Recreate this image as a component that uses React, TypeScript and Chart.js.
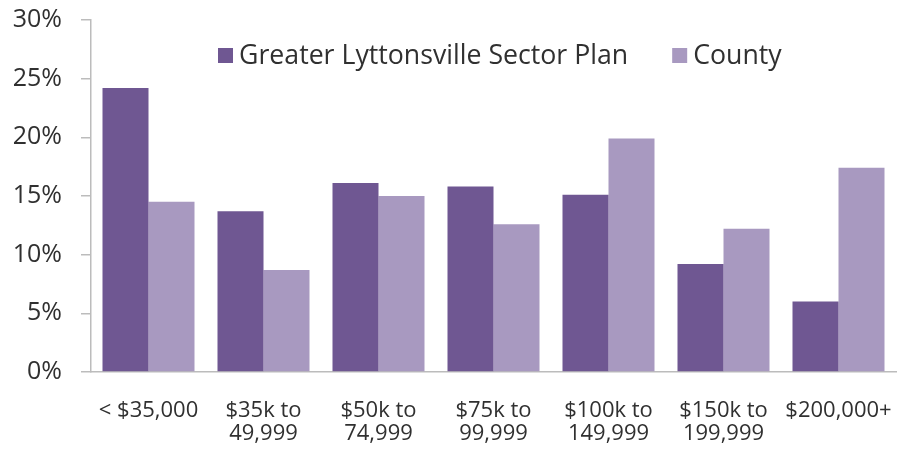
import React, { useEffect, useRef } from "react";
import { Chart, registerables } from "chart.js";

Chart.register(...registerables);

const categories: (string | string[])[] = [
  "< $35,000",
  ["$35k to", "49,999"],
  ["$50k to", "74,999"],
  ["$75k to", "99,999"],
  ["$100k to", "149,999"],
  ["$150k to", "199,999"],
  "$200,000+",
];
const sectorPlan = [24.2, 13.7, 16.1, 15.8, 15.1, 9.2, 6.0];
const county = [14.5, 8.7, 15.0, 12.6, 19.9, 12.2, 17.4];
const seriesNames = ["Greater Lyttonsville Sector Plan", "County"];
const seriesColors = ["#6f5792", "#a899c0"];
const yMin = 0;
const yMax = 30;
const yStep = 5;

const FONT = "'Open Sans', 'DejaVu Sans', sans-serif";
const TEXT = "#303030";
const AXIS = "#bcbcbc";

const legendPlugin = {
  id: "insideLegend",
  afterDraw(chart: any) {
    const { ctx, chartArea } = chart;
    ctx.save();
    ctx.font = `26.7px ${FONT}`;
    ctx.textBaseline = "alphabetic";
    ctx.textAlign = "left";
    let x = chartArea.left + 127;
    const boxTop = chartArea.top + 28;
    const box = 15;
    const baseline = chartArea.top + 44;
    chart.data.datasets.forEach((ds: any) => {
      ctx.fillStyle = ds.backgroundColor;
      ctx.fillRect(x, boxTop, box, box);
      x += box + 6;
      ctx.fillStyle = TEXT;
      ctx.fillText(ds.label, x, baseline);
      x += ctx.measureText(ds.label).width + 44;
    });
    ctx.restore();
  },
};

export default function App() {
  const ref = useRef<HTMLCanvasElement | null>(null);

  useEffect(() => {
    if (!ref.current) return;
    const chart = new Chart(ref.current, {
      type: "bar",
      data: {
        labels: categories,
        datasets: [
          {
            label: seriesNames[0],
            data: sectorPlan,
            backgroundColor: seriesColors[0],
            categoryPercentage: 0.8,
            barPercentage: 1.0,
          },
          {
            label: seriesNames[1],
            data: county,
            backgroundColor: seriesColors[1],
            categoryPercentage: 0.8,
            barPercentage: 1.0,
          },
        ],
      },
      options: {
        responsive: false,
        animation: false,
        devicePixelRatio: 1,
        layout: { padding: { top: 20, right: 1, left: 0, bottom: 0 } },
        plugins: {
          legend: { display: false },
          tooltip: { enabled: false },
          title: { display: false },
        },
        scales: {
          x: {
            grid: { display: false, drawTicks: false },
            border: { display: true, color: AXIS, width: 1.5 },
            ticks: {
              color: TEXT,
              font: { family: FONT, size: 22, lineHeight: 1.05 },
              padding: 27,
              maxRotation: 0,
              autoSkip: false,
            },
            afterFit(scale: any) {
              scale.height = 81;
              scale.paddingLeft = 0;
              scale.paddingRight = 0;
            },
          },
          y: {
            min: yMin,
            max: yMax,
            grid: {
              display: true,
              drawOnChartArea: false,
              drawTicks: true,
              tickLength: 10,
              color: AXIS,
              lineWidth: 1.5,
            },
            border: { display: true, color: AXIS, width: 1.5 },
            ticks: {
              stepSize: yStep,
              color: TEXT,
              font: { family: FONT, size: 25 },
              padding: 19,
              callback: (v: any) => `${v}%`,
            },
            afterFit(scale: any) {
              scale.width = 91;
              scale.paddingTop = 0;
              scale.paddingBottom = 0;
            },
          },
        },
      },
      plugins: [legendPlugin],
    });
    return () => chart.destroy();
  }, []);

  return (
    <div style={{ position: "absolute", left: 0, top: 0, width: 897, height: 453, background: "#fff" }}>
      <canvas ref={ref} width={897} height={453} style={{ width: 897, height: 453, display: "block" }} />
    </div>
  );
}
